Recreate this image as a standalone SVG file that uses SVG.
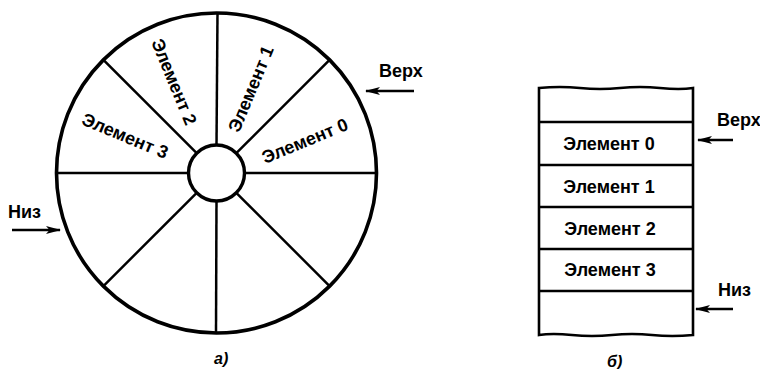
<svg xmlns="http://www.w3.org/2000/svg" width="760" height="369" viewBox="0 0 760 369">
  <style>
    .rim { fill: none; stroke: #000; stroke-width: 3.6; }
    .spoke { stroke: #000; stroke-width: 2.5; fill: none; }
    .cell { fill: #fff; stroke: #000; stroke-width: 2.6; }
    .lbl { font-family: "Liberation Sans", Arial, sans-serif; font-size: 18px; font-weight: bold; fill: #000; }
    .cap { font-family: "Liberation Sans", Arial, sans-serif; font-size: 16px; font-weight: bold; font-style: italic; fill: #000; }
    .arr { stroke: #000; stroke-width: 2.6; fill: none; }
  </style>
  <defs>
    <marker id="head" viewBox="0 0 15 9" refX="14" refY="4.5" markerWidth="15" markerHeight="9" markerUnits="userSpaceOnUse" orient="auto">
      <path d="M15,4.5 L0,0.5 L3.5,4.5 L0,8.5 Z" fill="#000"/>
    </marker>
  </defs>
  <rect width="760" height="369" fill="#fff"/>

  <!-- ring buffer (a) -->
  <g id="ring">
    <circle class="rim" cx="216.5" cy="173" r="160"/>
    <g class="spoke">
      <line x1="244.5" y1="173" x2="376.5" y2="173"/>
      <line x1="236.3" y1="153.2" x2="329.6" y2="59.9"/>
      <line x1="216.5" y1="145" x2="217.5" y2="13"/>
      <line x1="196.7" y1="153.2" x2="103.4" y2="59.9"/>
      <line x1="188.5" y1="173" x2="56.5" y2="173"/>
      <line x1="196.7" y1="192.8" x2="103.4" y2="286.1"/>
      <line x1="216.5" y1="201" x2="216" y2="333"/>
      <line x1="236.3" y1="192.8" x2="329.6" y2="286.1"/>
    </g>
    <circle cx="216.5" cy="173" r="28" fill="#fff" stroke="#000" stroke-width="3.4"/>
  </g>
  <g id="ring-labels">
    <text class="lbl" text-anchor="middle" dominant-baseline="central" transform="translate(305,141) rotate(-22.5)">Элемент 0</text>
    <text class="lbl" text-anchor="middle" dominant-baseline="central" transform="translate(251,89) rotate(-67.5)">Элемент 1</text>
    <text class="lbl" text-anchor="middle" dominant-baseline="central" transform="translate(174,82) rotate(67.5)">Элемент 2</text>
    <text class="lbl" text-anchor="middle" dominant-baseline="central" transform="translate(125,136) rotate(22.5)">Элемент 3</text>
  </g>
  <g id="ring-top">
    <text class="lbl" x="379" y="77">Верх</text>
  </g>
  <g id="ring-bottom">
    <text class="lbl" x="8" y="218">Низ</text>
  </g>
  <text class="cap" x="214" y="364">а)</text>

  <!-- linear stack (b) -->
  <g id="stack">
    <path class="cell" d="M539,88 Q560,86 580,88 T620,88 T660,88 T693,88 L693,335 Q672,337 652,335 T612,335 T572,335 T539,335 Z"/>
    <g class="spoke">
      <line x1="539" y1="122" x2="693" y2="122"/>
      <line x1="539" y1="165" x2="693" y2="165"/>
      <line x1="539" y1="207" x2="693" y2="207"/>
      <line x1="539" y1="249" x2="693" y2="249"/>
      <line x1="539" y1="291" x2="693" y2="291"/>
    </g>
  </g>
  <g id="stack-labels">
    <text class="lbl" x="609" y="144" text-anchor="middle" dominant-baseline="central">Элемент 0</text>
    <text class="lbl" x="609" y="187" text-anchor="middle" dominant-baseline="central">Элемент 1</text>
    <text class="lbl" x="610" y="229" text-anchor="middle" dominant-baseline="central">Элемент 2</text>
    <text class="lbl" x="610" y="270" text-anchor="middle" dominant-baseline="central">Элемент 3</text>
  </g>
  <g id="stack-top">
    <text class="lbl" x="717" y="126">Верх</text>
  </g>
  <g id="stack-bottom">
    <text class="lbl" x="718" y="296">Низ</text>
  </g>
  <text class="cap" x="607" y="367">б)</text>

  <!-- pointer arrows -->
  <g id="connectors">
    <line class="arr" x1="12" y1="230" x2="60" y2="230" marker-end="url(#head)"/>
    <line class="arr" x1="414" y1="91" x2="366" y2="91" marker-end="url(#head)"/>
    <line class="arr" x1="733" y1="140" x2="698" y2="140" marker-end="url(#head)"/>
    <line class="arr" x1="733" y1="309" x2="696" y2="309" marker-end="url(#head)"/>
  </g>
</svg>
